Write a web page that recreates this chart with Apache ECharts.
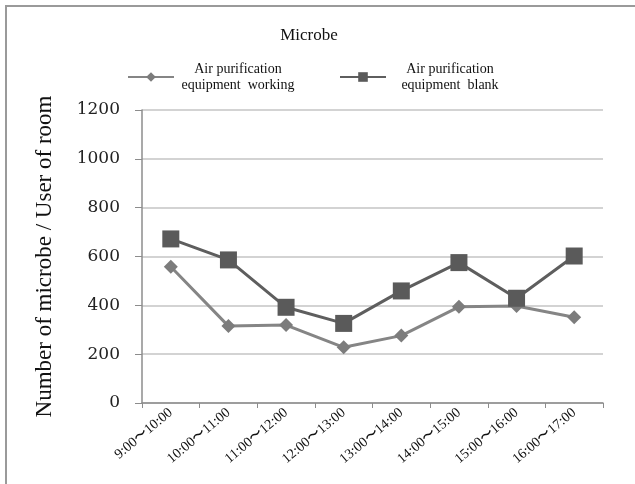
<!DOCTYPE html>
<html>
<head>
<meta charset="utf-8">
<script src="https://cdn.jsdelivr.net/npm/echarts@6/dist/echarts.min.js"></script>
<style>
  html, body { margin: 0; padding: 0; background: #fff; }
  #chart { width: 635px; height: 484px; }
</style>
</head>
<body>
<div id="chart"></div>
<script>
// Hourly microbe counts per room user
const timeSlots = ['9:00〜10:00', '10:00〜11:00', '11:00〜12:00', '12:00〜13:00',
                   '13:00〜14:00', '14:00〜15:00', '15:00〜16:00', '16:00〜17:00'];
const workingValues = [558, 315, 319, 228, 276, 394, 397, 351];
const blankValues = [672, 586, 392, 326, 459, 575, 429, 602];
const yTicks = [0, 200, 400, 600, 800, 1000, 1200];

const seriesNames = ['Air purification\nequipment  working', 'Air purification\nequipment  blank'];

const serif = '"Liberation Serif", "Times New Roman", serif';
const numSerif = '"DejaVu Serif", serif';

const chart = echarts.init(document.getElementById('chart'), null, { renderer: 'canvas' });

chart.setOption({
  animation: false,
  backgroundColor: '#ffffff',
  graphic: [{
    type: 'rect',
    shape: { x: 6, y: 6, width: 700, height: 600 },
    style: { fill: 'none', stroke: '#9a9a9a', lineWidth: 2 },
    silent: true
  }],
  title: {
    text: 'Microbe',
    left: 304,
    top: 22,
    textAlign: 'center',
    textStyle: { fontFamily: serif, fontSize: 17, fontWeight: 'normal', color: '#111' }
  },
  legend: {
    left: 122,
    top: 57,
    itemWidth: 46,
    itemHeight: 12,
    itemGap: 42,
    data: seriesNames,
    formatter: function (name) {
      return name.split('\n').map(function (s) { return '{t|' + s + '}'; }).join('\n');
    },
    textStyle: {
      fontFamily: serif,
      fontSize: 14,
      color: '#111',
      rich: {
        t: { fontFamily: serif, fontSize: 14, color: '#111', width: 118, align: 'center', lineHeight: 16 }
      }
    }
  },
  grid: { left: 142, right: 32, top: 110, bottom: 81 },
  xAxis: {
    type: 'category',
    data: timeSlots,
    boundaryGap: true,
    axisLine: { lineStyle: { color: '#8c8c8c', width: 1.5 } },
    axisTick: { show: true, length: 5, alignWithLabel: false, lineStyle: { color: '#8c8c8c' } },
    axisLabel: {
      rotate: 40,
      margin: 8,
      fontFamily: serif,
      fontSize: 14,
      color: '#111',
      interval: 0
    }
  },
  yAxis: {
    type: 'value',
    min: yTicks[0],
    max: yTicks[yTicks.length - 1],
    interval: yTicks[1] - yTicks[0],
    name: 'Number of microbe / User of room',
    nameLocation: 'middle',
    nameGap: 86,
    nameTextStyle: { fontFamily: serif, fontSize: 23, color: '#111' },
    axisLine: { show: true, lineStyle: { color: '#8c8c8c', width: 1.5 } },
    axisTick: { show: true, inside: false, length: 7, lineStyle: { color: '#8c8c8c' } },
    axisLabel: {
      margin: 22, fontFamily: numSerif, fontSize: 17, color: '#222',
      formatter: function (v) { return String(v); }
    },
    splitLine: { show: true, lineStyle: { color: '#c4c4c4', width: 1.5 } }
  },
  series: [
    {
      name: seriesNames[0],
      type: 'line',
      data: workingValues,
      symbol: 'diamond',
      symbolSize: 14,
      lineStyle: { color: '#858585', width: 3 },
      itemStyle: { color: '#7c7c7c' },
      z: 2
    },
    {
      name: seriesNames[1],
      type: 'line',
      data: blankValues,
      symbol: 'rect',
      symbolSize: 17,
      lineStyle: { color: '#5e5e5e', width: 3 },
      itemStyle: { color: '#5a5a5a' },
      z: 3
    }
  ]
});
</script>
</body>
</html>
